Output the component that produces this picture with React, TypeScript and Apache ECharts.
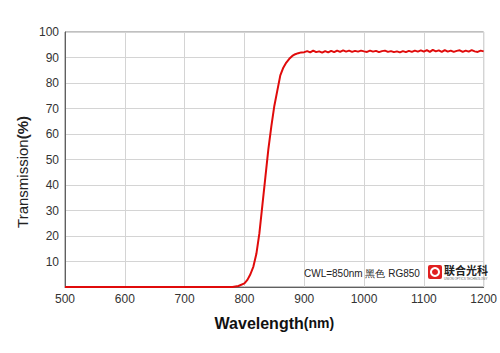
import React, { useEffect, useRef } from "react";
import * as echarts from "echarts";

const wavelengths: number[] = [
  500, 550, 600, 650, 700, 750, 780, 790, 800, 805, 810, 815, 820, 825, 830, 835, 840, 845, 850, 855,
  860, 865, 870, 875, 880, 885, 890, 895, 900,
  905, 910, 915, 920, 925, 930, 935, 940, 945, 950, 955, 960, 965, 970, 975, 980, 985, 990, 995, 1000,
  1005, 1010, 1015, 1020, 1025, 1030, 1035, 1040, 1045, 1050, 1055, 1060, 1065, 1070, 1075, 1080, 1085, 1090, 1095, 1100,
  1105, 1110, 1115, 1120, 1125, 1130, 1135, 1140, 1145, 1150, 1155, 1160, 1165, 1170, 1175, 1180, 1185, 1190, 1195, 1200,
];

const transmission: number[] = [
  0, 0, 0, 0, 0, 0, 0, 0.4, 1.4, 2.8, 5, 8, 13, 21, 32, 43, 54, 63, 71, 77,
  83, 86, 88, 89.5, 90.6, 91.3, 91.7, 92.0, 92.1,
  92.5, 92.0, 92.7, 92.1, 92.4, 91.9, 92.5, 92.0, 92.6, 92.1, 92.7, 92.2, 92.8, 92.3, 92.7, 92.2, 92.6, 92.3, 92.7, 92.4,
  92.2, 92.7, 92.3, 92.6, 92.1, 92.5, 92.7, 92.2, 92.5, 92.1, 92.4, 92.0, 92.5, 92.1, 92.6, 92.2, 92.7, 92.3, 92.8, 92.3,
  92.9, 92.2, 93.0, 92.4, 92.8, 92.2, 92.9, 92.3, 92.7, 92.2, 92.6, 92.8, 92.2, 92.7, 92.3, 92.9, 92.4, 92.2, 92.7, 92.4,
];

const xTicks = { min: 500, max: 1200, interval: 100 };
const yTicks = { min: 0, max: 100, interval: 10 };
const yTitle = { main: "Transmission", unit: "(%)" };
const noteText = "CWL=850nm 黑色 RG850";
const logoText = "联合光科";
const logoSub = "UNION OPTICS TECHNOLOGY";

const FONT = "'Liberation Sans', Arial, sans-serif";

export default function App() {
  const ref = useRef<HTMLDivElement>(null);
  useEffect(() => {
    if (!ref.current) return;
    const chart = echarts.init(ref.current, null, { renderer: "svg" });
    const data = wavelengths.map((w, i) => [w, transmission[i]]);
    chart.setOption({
      animation: false,
      backgroundColor: "#ffffff",
      textStyle: { fontFamily: FONT },
      grid: {
        left: 65,
        right: 15,
        top: 32,
        bottom: 66,
        show: true,
        borderColor: "#808080",
        borderWidth: 1,
        backgroundColor: "transparent",
      },
      xAxis: {
        type: "value",
        min: xTicks.min,
        max: xTicks.max,
        interval: xTicks.interval,
        axisLine: { show: true, lineStyle: { color: "#606060", width: 1 } },
        axisTick: { show: false },
        axisLabel: {
          color: "#333",
          fontSize: 12,
          margin: 6,
          fontFamily: FONT,
          formatter: (v: number) => String(v),
        },
        splitLine: { show: true, lineStyle: { color: "#d4d4d4", width: 1 } },
        name: "{a|Wavelength}{b|(nm)}",
        nameLocation: "middle",
        nameGap: 28,
        nameTextStyle: {
          rich: {
            a: { fontSize: 16, fontWeight: "bold", color: "#111", fontFamily: FONT },
            b: { fontSize: 14, fontWeight: "bold", color: "#111", fontFamily: FONT },
          },
        },
      },
      yAxis: {
        type: "value",
        min: yTicks.min,
        max: yTicks.max,
        interval: yTicks.interval,
        axisLine: { show: true, lineStyle: { color: "#606060", width: 1 } },
        axisTick: { show: false },
        axisLabel: {
          color: "#333",
          fontSize: 12,
          margin: 6,
          fontFamily: FONT,
          formatter: (v: number) => (v === 0 ? "" : String(v)),
        },
        splitLine: { show: true, lineStyle: { color: "#d4d4d4", width: 1 } },
      },
      series: [
        {
          type: "line",
          data,
          showSymbol: false,
          smooth: false,
          lineStyle: { color: "#e00b0b", width: 2 },
          z: 5,
        },
      ],
      graphic: [
        {
          type: "text",
          x: 22,
          y: 172,
          rotation: Math.PI / 2,
          style: {
            text: "{a|" + yTitle.main + "}{b|" + yTitle.unit + "}",
            align: "center",
            verticalAlign: "middle",
            rich: {
              a: { fontSize: 15, fill: "#222", fontFamily: FONT },
              b: { fontSize: 15, fontWeight: "bold", fill: "#222", fontFamily: FONT },
            },
          },
          z: 10,
        },
        {
          type: "text",
          left: 304,
          top: 268,
          style: { text: noteText, font: "10px " + FONT, fill: "#222" },
          z: 10,
        },
        {
          type: "rect",
          shape: { x: 428, y: 265, width: 14, height: 14, r: 2 },
          style: { fill: "#e02020" },
          z: 10,
        },
        {
          type: "ring",
          shape: { cx: 435, cy: 272, r: 5, r0: 3 },
          style: { fill: "#ffffff" },
          z: 11,
        },
        {
          type: "text",
          left: 444,
          top: 264,
          style: { text: logoText, font: "bold 11px 'Noto Sans CJK SC', sans-serif", fill: "#222" },
          z: 10,
        },
        {
          type: "text",
          left: 444,
          top: 277,
          style: { text: logoSub, font: "3px " + FONT, fill: "#666" },
          z: 10,
        },
      ],
    });
    return () => chart.dispose();
  }, []);
  return (
    <div
      ref={ref}
      style={{ position: "fixed", left: 0, top: 0, width: 500, height: 353 }}
    />
  );
}
